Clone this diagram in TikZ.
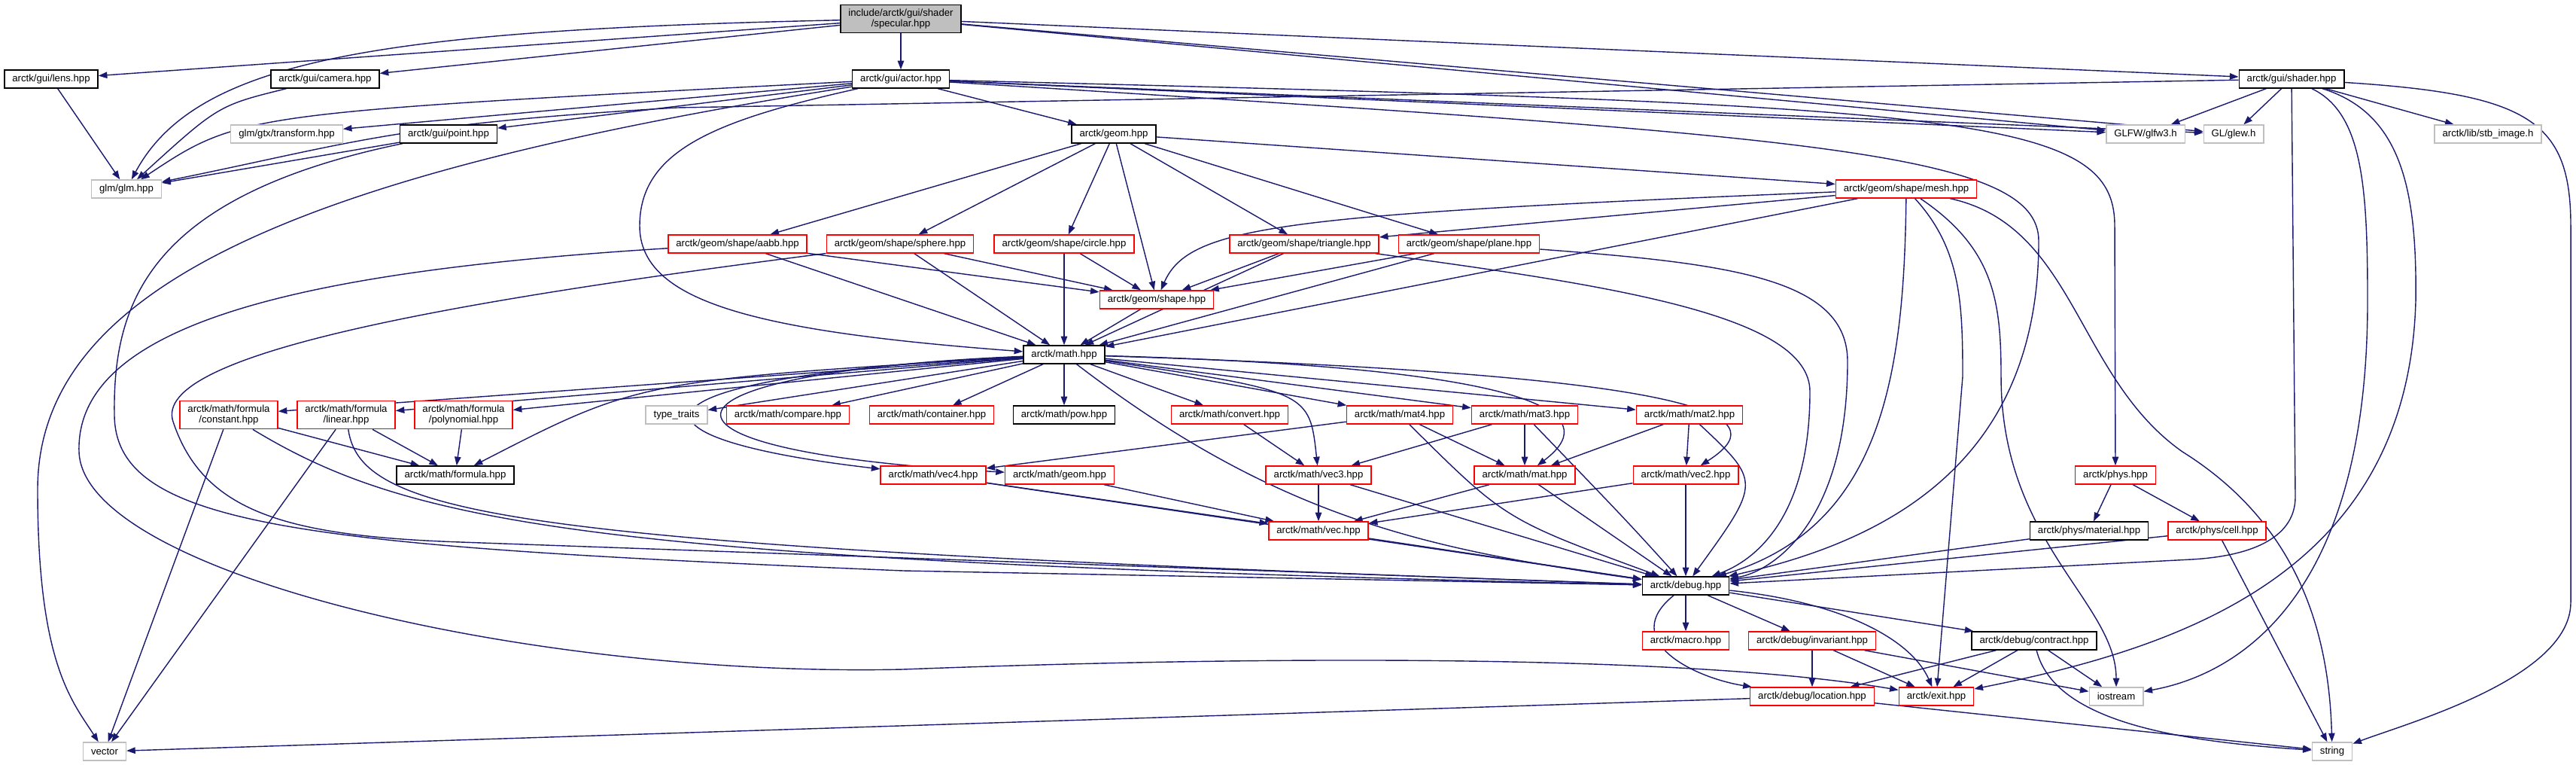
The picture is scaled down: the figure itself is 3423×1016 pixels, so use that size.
\documentclass[tikz,border=0pt]{standalone}
\usepackage{fontspec}
\setmainfont{Liberation Sans}
\usetikzlibrary{arrows.meta, positioning, backgrounds}
\definecolor{edgeblue}{HTML}{191970}
\definecolor{sysgray}{HTML}{BFBFBF}

\begin{document}
\begin{tikzpicture}[x=0.02cm, y=-0.02cm, font=\fontsize{7.5}{8.2}\selectfont,
    >={Triangle[length=6.6pt,width=4.8pt]},
    inc/.style={draw=black, line width=0.8pt, fill=white, rectangle, minimum height=0.48cm, inner xsep=0.21cm, inner ysep=3pt, align=center},
    redinc/.style={inc, draw=red},
    sysinc/.style={inc, draw=sysgray},
    dep/.style={->, draw=edgeblue, line width=0.8pt}]
    \useasboundingbox (0,0) rectangle (3423,1016);

    \node[inc, fill=sysgray] (spec) at (1197,25) {include/arctk/gui/shader\\/specular.hpp};
    \node[inc] (lens) at (68,105) {arctk/gui/lens.hpp};
    \node[inc] (camera) at (432,105) {arctk/gui/camera.hpp};
    \node[inc] (actor) at (1197,105) {arctk/gui/actor.hpp};
    \node[inc] (shader) at (3045,105) {arctk/gui/shader.hpp};
    \node[sysinc] (transform) at (381,178) {glm/gtx/transform.hpp};
    \node[inc] (point) at (596,178) {arctk/gui/point.hpp};
    \node[inc] (geom) at (1480,178) {arctk/geom.hpp};
    \node[sysinc] (glfw) at (2851,178) {GLFW/glfw3.h};
    \node[sysinc] (glew) at (2968,178) {GL/glew.h};
    \node[sysinc] (stbimage) at (3306,178) {arctk/lib/stb\_image.h};
    \node[sysinc] (glm) at (168,251) {glm/glm.hpp};
    \node[redinc] (mesh) at (2533,251) {arctk/geom/shape/mesh.hpp};
    \node[redinc] (aabb) at (980,324) {arctk/geom/shape/aabb.hpp};
    \node[redinc] (sphere) at (1196,324) {arctk/geom/shape/sphere.hpp};
    \node[redinc] (circle) at (1414,324) {arctk/geom/shape/circle.hpp};
    \node[redinc] (triangle) at (1733,324) {arctk/geom/shape/triangle.hpp};
    \node[redinc] (plane) at (1952,324) {arctk/geom/shape/plane.hpp};
    \node[redinc] (shape) at (1537,398) {arctk/geom/shape.hpp};
    \node[inc] (math) at (1414,471) {arctk/math.hpp};
    \node[redinc] (constant) at (304,551) {arctk/math/formula\\/constant.hpp};
    \node[redinc] (linear) at (460,551) {arctk/math/formula\\/linear.hpp};
    \node[redinc] (polynomial) at (616,551) {arctk/math/formula\\/polynomial.hpp};
    \node[sysinc] (typetraits) at (899,551) {type\_traits};
    \node[redinc] (compare) at (1047,551) {arctk/math/compare.hpp};
    \node[redinc] (container) at (1238,551) {arctk/math/container.hpp};
    \node[inc] (pow) at (1414,551) {arctk/math/pow.hpp};
    \node[redinc] (convert) at (1634,551) {arctk/math/convert.hpp};
    \node[redinc] (mat4) at (1860,551) {arctk/math/mat4.hpp};
    \node[redinc] (mat3) at (2026,551) {arctk/math/mat3.hpp};
    \node[redinc] (mat2) at (2245,551) {arctk/math/mat2.hpp};
    \node[inc] (formula) at (605,631) {arctk/math/formula.hpp};
    \node[redinc] (vec4) at (1240,631) {arctk/math/vec4.hpp};
    \node[redinc] (mgeom) at (1408,631) {arctk/math/geom.hpp};
    \node[redinc] (vec3) at (1752,631) {arctk/math/vec3.hpp};
    \node[redinc] (mat) at (2026,631) {arctk/math/mat.hpp};
    \node[redinc] (vec2) at (2240,631) {arctk/math/vec2.hpp};
    \node[redinc] (phys) at (2811,631) {arctk/phys.hpp};
    \node[redinc] (vec) at (1752,705) {arctk/math/vec.hpp};
    \node[inc] (material) at (2776,705) {arctk/phys/material.hpp};
    \node[redinc] (cell) at (2946,705) {arctk/phys/cell.hpp};
    \node[inc] (debug) at (2240,778) {arctk/debug.hpp};
    \node[redinc] (macro) at (2240,851) {arctk/macro.hpp};
    \node[redinc] (invariant) at (2408,851) {arctk/debug/invariant.hpp};
    \node[inc] (contract) at (2703,851) {arctk/debug/contract.hpp};
    \node[redinc] (location) at (2408,925) {arctk/debug/location.hpp};
    \node[redinc] (exit) at (2573,925) {arctk/exit.hpp};
    \node[sysinc] (iostream) at (2812,925) {iostream};
    \node[sysinc] (vector) at (139,998) {vector};
    \node[sysinc] (string) at (3099,998) {string};

    \begin{scope}[on background layer]
    % top level
    \draw[dep] (spec) -- (lens);
    \draw[dep] (spec) .. controls (500,40) and (260,80) .. (glm);
    \draw[dep] (spec) -- (camera);
    \draw[dep] (spec) -- (actor);
    \draw[dep] (spec) -- (shader);
    \draw[dep] (spec) -- (glfw);
    \draw[dep] (spec) -- (glew);
    \draw[dep] (lens) -- (glm);
    \draw[dep] (camera) .. controls (290,140) .. (glm);

    % actor
    \draw[dep] (actor) .. controls (320,150) .. (glm);
    \draw[dep] (actor) -- (transform);
    \draw[dep] (actor) -- (point);
    \draw[dep] (actor) -- (geom);
    \draw[dep] (actor) .. controls (950,160) and (850,200) .. (850,300) .. controls (850,400) and (1000,440) .. (math);
    \draw[dep] (actor) .. controls (400,230) and (50,380) .. (50,650) .. controls (50,880) and (95,930) .. (vector);
    \draw[dep] (actor) -- (glfw);
    \draw[dep] (actor) -- (glew);
    \draw[dep] (actor) .. controls (2600,140) and (2810,150) .. (2810,300) -- (phys);
    \draw[dep] (actor) .. controls (2400,180) and (2709,200) .. (2709,320) .. controls (2709,620) and (2500,720) .. (debug);

    % shader
    \draw[dep] (shader) -- (900,143) .. controls (520,165) and (470,190) .. (glm);
    \draw[dep] (shader) -- (glfw);
    \draw[dep] (shader) -- (glew);
    \draw[dep] (shader) -- (stbimage);
    \draw[dep] (shader) -- (3050,660) .. controls (3050,710) and (3000,738) .. (2912,743) -- (debug);
    \draw[dep] (shader) .. controls (3140,150) and (3146,250) .. (3146,400) .. controls (3146,820) and (2950,900) .. (iostream);
    \draw[dep] (shader) .. controls (3190,150) and (3212,250) .. (3210,400) .. controls (3200,760) and (2900,860) .. (exit);
    \draw[dep] (shader) .. controls (3360,125) and (3416,160) .. (3416,300) -- (3416,800) .. controls (3416,900) and (3200,960) .. (string);

    % point
    \draw[dep] (point) -- (glm);
    \draw[dep] (point) .. controls (200,260) and (150,400) .. (152,550) .. controls (152,700) and (400,725) .. (1200,758) -- (debug);

    % geom
    \draw[dep] (geom) -- (aabb);
    \draw[dep] (geom) -- (sphere);
    \draw[dep] (geom) -- (circle);
    \draw[dep] (geom) -- (shape);
    \draw[dep] (geom) -- (triangle);
    \draw[dep] (geom) -- (plane);
    \draw[dep] (geom) -- (mesh);

    % mesh
    \draw[dep] (mesh) .. controls (1700,285) and (1580,300) .. (shape);
    \draw[dep] (mesh) -- (triangle);
    \draw[dep] (mesh) -- (math);
    \draw[dep] (mesh) .. controls (2530,500) and (2500,700) .. (debug);
    \draw[dep] (mesh) .. controls (2605,330) and (2608,400) .. (2608,500) -- (exit);
    \draw[dep] (mesh) .. controls (2650,330) and (2659,400) .. (2659,500) .. controls (2659,720) and (2812,800) .. (iostream);
    \draw[dep] (mesh) .. controls (2758,300) and (2758,500) .. (2900,600) .. controls (3060,700) and (3095,850) .. (string);

    % shapes
    \draw[dep] (aabb) -- (shape);
    \draw[dep] (aabb) -- (math);
    \draw[dep] (aabb) .. controls (400,360) and (100,430) .. (105,600) .. controls (110,760) and (700,900) .. (1200,889) .. controls (1700,870) and (2250,870) .. (exit);
    \draw[dep] (sphere) -- (shape);
    \draw[dep] (sphere) -- (math);
    \draw[dep] (sphere) .. controls (600,400) and (200,470) .. (230,560) .. controls (270,680) and (380,712) .. (612,720) -- (debug);
    \draw[dep] (circle) -- (shape);
    \draw[dep] (circle) -- (math);
    \draw[dep] (triangle) -- (shape);
    \draw[dep] (triangle) -- (math);
    \draw[dep] (triangle) .. controls (2150,380) and (2405,420) .. (2405,520) .. controls (2405,690) and (2330,745) .. (debug);
    \draw[dep] (plane) -- (shape);
    \draw[dep] (plane) -- (math);
    \draw[dep] (plane) .. controls (2300,350) and (2455,370) .. (2455,480) .. controls (2455,700) and (2350,760) .. (debug);
    \draw[dep] (shape) -- (math);

    % math
    \draw[dep] (math) -- (typetraits);
    \draw[dep] (math) -- (compare);
    \draw[dep] (math) -- (container);
    \draw[dep] (math) -- (pow);
    \draw[dep] (math) -- (convert);
    \draw[dep] (math) -- (mat4);
    \draw[dep] (math) -- (mat3);
    \draw[dep] (math) -- (mat2);
    \draw[dep] (math) -- (constant);
    \draw[dep] (math) -- (linear);
    \draw[dep] (math) -- (polynomial);
    \draw[dep] (math) .. controls (850,505) .. (formula);
    \draw[dep] (math) .. controls (820,500) and (800,580) .. (vec4);
    \draw[dep] (math) .. controls (840,495) and (820,600) .. (mgeom);
    \draw[dep] (math) .. controls (1740,520) .. (vec3);
    \draw[dep] (math) .. controls (2100,490) and (2120,560) .. (mat);
    \draw[dep] (math) .. controls (2330,500) and (2350,560) .. (vec2);
    \draw[dep] (math) .. controls (1700,690) and (1900,730) .. (debug);

    % formula
    \draw[dep] (constant) -- (formula);
    \draw[dep] (constant) -- (vector);
    \draw[dep] (constant) .. controls (550,700) and (800,745) .. (debug);
    \draw[dep] (linear) -- (formula);
    \draw[dep] (linear) -- (vector);
    \draw[dep] (linear) .. controls (480,690) and (700,725) .. (debug);
    \draw[dep] (polynomial) -- (formula);

    % vectors, matrices
    \draw[dep] (convert) -- (vec3);
    \draw[dep] (mat4) -- (vec4);
    \draw[dep] (mat4) -- (mat);
    \draw[dep] (mat4) .. controls (2000,690) .. (debug);
    \draw[dep] (mat3) -- (vec3);
    \draw[dep] (mat3) -- (mat);
    \draw[dep] (mat3) .. controls (2160,690) .. (debug);
    \draw[dep] (mat2) -- (mat);
    \draw[dep] (mat2) -- (vec2);
    \draw[dep] (mat2) .. controls (2340,640) .. (debug);
    \draw[dep] (vec4) -- (vec);
    \draw[dep] (vec4) -- (debug);
    \draw[dep] (mgeom) -- (vec);
    \draw[dep] (vec3) -- (vec);
    \draw[dep] (vec3) -- (debug);
    \draw[dep] (mat) -- (vec);
    \draw[dep] (mat) -- (debug);
    \draw[dep] (vec2) -- (vec);
    \draw[dep] (vec2) -- (debug);
    \draw[dep] (vec) -- (debug);

    % phys
    \draw[dep] (phys) -- (material);
    \draw[dep] (phys) -- (cell);
    \draw[dep] (material) -- (debug);
    \draw[dep] (cell) -- (debug);
    \draw[dep] (cell) -- (string);

    % debug
    \draw[dep] (debug) -- (macro);
    \draw[dep] (debug) -- (invariant);
    \draw[dep] (debug) -- (contract);
    \draw[dep] (debug) .. controls (2150,850) and (2250,900) .. (location);
    \draw[dep] (debug) .. controls (2450,800) and (2540,850) .. (exit);
    \draw[dep] (invariant) -- (location);
    \draw[dep] (invariant) -- (exit);
    \draw[dep] (invariant) -- (iostream);
    \draw[dep] (contract) -- (location);
    \draw[dep] (contract) -- (exit);
    \draw[dep] (contract) -- (iostream);
    \draw[dep] (contract) .. controls (2730,960) and (2900,985) .. (string);
    \draw[dep] (location) -- (vector);
    \draw[dep] (location) -- (string);
    \end{scope}
\end{tikzpicture}
\end{document}
